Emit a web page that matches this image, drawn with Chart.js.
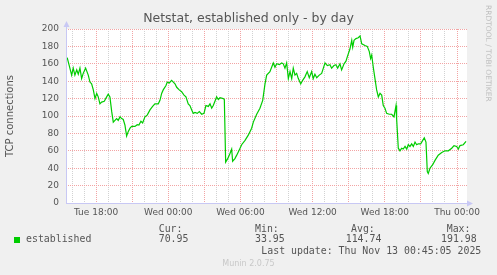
<!DOCTYPE html>
<html>
<head>
<meta charset="utf-8">
<title>Netstat, established only - by day</title>
<script src="https://cdn.jsdelivr.net/npm/chart.js@4/dist/chart.umd.min.js"></script>
<style>
  html, body { margin: 0; padding: 0; background: #f0f0f0; }
  #wrap { position: relative; width: 497px; height: 275px; overflow: hidden; }
  #chart { position: absolute; left: 0; top: 0; }
  .t { position: absolute; white-space: pre; color: #555; line-height: 1; }
  .mono { font-family: "DejaVu Sans Mono", monospace; font-size: 9.9px; }
  #title { left: 0; width: 497px; top: 12px; text-align: center; font-family: "DejaVu Sans", sans-serif; font-size: 12.5px; }
  #munin { left: 0; width: 497px; top: 260px; text-align: center; font-family: "DejaVu Sans", sans-serif; font-size: 8px; color: #c8c8c8; }
  #rrd { left: 484px; top: 5px; font-family: "DejaVu Sans", sans-serif; font-size: 7.5px; color: #c0c0c0;
         transform-origin: 0 0; transform: translate(8px, 0) rotate(90deg); }
  #swatch { position: absolute; left: 14px; top: 237px; width: 6px; height: 6px; background: #00cc00; }
</style>
</head>
<body>
<div id="wrap">
  <canvas id="chart" width="497" height="275"></canvas>
  <div class="t" id="title">Netstat, established only - by day</div>
  <div class="t" id="rrd">RRDTOOL / TOBI OETIKER</div>
  <div id="swatch"></div>
  <div id="legend"></div>
  <div class="t" id="munin">Munin 2.0.75</div>
</div>
<script>
// hours relative to Wed 00:00
const timeHours = [
  -8.40, -8.23, -8.03, -7.90, -7.76, -7.61, -7.48, -7.34, -7.20, -7.07,
  -6.87, -6.65, -6.51, -6.37, -6.23, -6.09, -5.95, -5.82, -5.68, -5.54,
  -5.32, -5.12, -4.99, -4.85, -4.70, -4.57, -4.43, -4.29, -4.16, -4.01,
  -3.87, -3.74, -3.60, -3.46, -3.33, -3.18, -3.04, -2.77, -2.58, -2.44,
  -2.27, -2.13, -1.94, -1.75, -1.52, -1.30, -1.11, -0.83, -0.69, -0.55,
  -0.42, -0.19, -0.08, 0.08, 0.28, 0.42, 0.56, 0.70, 0.91, 1.11,
  1.31, 1.47, 1.66, 1.80, 1.95, 2.08, 2.22, 2.41, 2.58, 2.78,
  2.97, 3.13, 3.33, 3.47, 3.61, 3.74, 3.88, 4.02, 4.16, 4.30,
  4.57, 4.66, 4.77, 4.94, 5.13, 5.27, 5.35, 5.54, 5.69, 5.90,
  6.10, 6.38, 6.65, 6.93, 7.07, 7.35, 7.62, 7.85, 8.04, 8.18,
  8.45, 8.73, 8.87, 9.01, 9.23, 9.43, 9.56, 9.70, 9.84, 9.98,
  10.12, 10.26, 10.39, 10.53, 10.67, 10.81, 11.01, 11.17, 11.36, 11.55,
  11.72, 11.92, 12.05, 12.19, 12.34, 12.55, 12.75, 12.89, 13.03, 13.22,
  13.44, 13.58, 13.77, 13.94, 14.08, 14.27, 14.41, 14.61, 14.77, 14.88,
  15.10, 15.25, 15.33, 15.44, 15.60, 15.79, 15.94, 16.08, 16.35, 16.54,
  16.71, 16.82, 16.91, 17.04, 17.18, 17.32, 17.46, 17.60, 17.74, 17.87,
  18.01, 18.15, 18.37, 18.57, 18.76, 18.93, 18.98, 19.12, 19.26, 19.40,
  19.53, 19.68, 19.82, 19.95, 20.09, 20.23, 20.37, 20.51, 20.65, 20.78,
  20.98, 21.15, 21.28, 21.42, 21.53, 21.61, 21.75, 21.98, 22.17, 22.44,
  22.73, 23.00, 23.28, 23.56, 23.75, 23.97, 24.11, 24.25, 24.52, 24.75
];
const established = [
  167, 158, 147, 155, 147, 153, 148, 155, 143, 149,
  155, 147, 139, 137, 130, 120, 126, 122, 114, 116,
  117, 122, 125, 122, 105, 93, 95, 97, 95, 99,
  97, 96, 89.5, 77, 82, 86, 88, 88, 90, 89.5,
  94, 92, 99, 101, 107, 111, 114, 114, 118, 126,
  130, 135, 139, 138, 141, 139, 137, 133, 130, 128,
  124, 122, 114, 112, 107, 103, 104, 103, 105, 102,
  103, 112, 111, 114, 109, 112, 117, 122, 119, 121,
  120, 119, 47, 51, 57, 62, 48, 51, 55, 61,
  67, 72, 78, 86, 93, 102, 109, 118, 137, 147,
  151, 161, 156, 160, 159, 161, 160, 155, 161, 143,
  151, 143, 155, 147, 149, 143, 137, 141, 145, 151,
  144, 151, 143, 148, 144, 147, 149, 155, 161, 158,
  159, 155, 158, 159, 155, 160, 153, 160, 163, 168,
  177, 187, 179, 187, 189, 190, 191.98, 183, 181, 180,
  174, 166, 170, 156, 143, 130, 122, 126, 124, 112,
  109, 103, 102, 102, 99, 112, 97, 63, 60, 63,
  62, 65, 62, 67, 65, 68, 65, 70, 67, 68,
  68, 72, 75, 70, 36, 33.95, 40, 44, 49, 55,
  58, 60, 60, 63, 66, 65, 62, 66, 67, 70.95
];

const xTickHours = [-6, 0, 6, 12, 18, 24];
const xTickLabels = ["Tue 18:00", "Wed 00:00", "Wed 06:00", "Wed 12:00", "Wed 18:00", "Thu 00:00"];
const statNames = ["Cur:", "Min:", "Avg:", "Max:"];
const statValues = ["70.95", "33.95", "114.74", "191.98"];
const seriesName = "established";
const lastUpdate = "Last update: Thu Nov 13 00:45:05 2025";

// legend / stats row (monospace, like rrdtool)
const legend = document.getElementById("legend");
function addText(txt, x, y) {
  const d = document.createElement("div");
  d.className = "t mono";
  d.textContent = txt;
  d.style.left = x + "px";
  d.style.top = y + "px";
  legend.appendChild(d);
}
const nameX = [158.7, 255, 351, 446.7];
const valX = [158.7, 255, 345.7, 441];
statNames.forEach((s, i) => addText(s, nameX[i], 223.5));
statValues.forEach((s, i) => addText(s, valX[i], 234));
addText(seriesName, 26, 234);
addText(lastUpdate, 261.3, 246);

const RED = "#f2a4a4";
const GREY = "#d2d2d2";

const plotBg = {
  id: "plotBg",
  beforeDraw(chart) {
    const { ctx, chartArea: a } = chart;
    ctx.save();
    ctx.fillStyle = "#ffffff";
    ctx.fillRect(a.left, a.top, a.right - a.left, a.bottom - a.top);
    ctx.restore();
  },
  afterDraw(chart) {
    const { ctx, chartArea: a } = chart;
    ctx.save();
    ctx.strokeStyle = "#c8c8f4";
    ctx.fillStyle = "#c8c8f4";
    ctx.lineWidth = 1;
    ctx.beginPath();
    ctx.moveTo(a.left + 0.5, a.bottom + 0.5);
    ctx.lineTo(a.left + 0.5, a.top - 5);
    ctx.moveTo(a.left, a.bottom + 0.5);
    ctx.lineTo(a.right + 2, a.bottom + 0.5);
    ctx.stroke();
    // arrow heads
    ctx.beginPath();
    ctx.moveTo(a.left + 0.5, a.top - 8);
    ctx.lineTo(a.left - 2.5, a.top - 2);
    ctx.lineTo(a.left + 3.5, a.top - 2);
    ctx.closePath();
    ctx.fill();
    ctx.beginPath();
    ctx.moveTo(a.right + 6, a.bottom + 0.5);
    ctx.lineTo(a.right, a.bottom - 2.5);
    ctx.lineTo(a.right, a.bottom + 3.5);
    ctx.closePath();
    ctx.fill();
    ctx.restore();
  }
};

new Chart(document.getElementById("chart"), {
  type: "line",
  data: {
    datasets: [{
      label: seriesName,
      data: timeHours.map((h, i) => ({ x: h, y: established[i] })),
      borderColor: "#00cc00",
      borderWidth: 1.2,
      pointRadius: 0,
      tension: 0,
      fill: false
    }]
  },
  options: {
    responsive: false,
    animation: false,
    layout: { padding: { left: 0, top: 29, right: 30, bottom: 52 } },
    plugins: { legend: { display: false }, tooltip: { enabled: false } },
    scales: {
      x: {
        type: "linear",
        min: -8.5,
        max: 24.83,
        afterFit(scale) { scale.height = 20; },
        border: { display: false, dash: [1, 1] },
        grid: {
          drawTicks: false,
          color: (c) => (Math.round(c.tick.value) % 3 === 0 ? RED : GREY)
        },
        ticks: {
          stepSize: 1,
          autoSkip: false,
          maxRotation: 0,
          includeBounds: false,
          padding: 4,
          color: "#555",
          font: { family: "DejaVu Sans", size: 9 },
          callback: (v) => {
            const i = xTickHours.indexOf(Math.round(v));
            return i >= 0 ? xTickLabels[i] : "";
          }
        }
      },
      y: {
        min: 0,
        max: 200,
        afterFit(scale) { scale.width = 66; },
        border: { display: false, dash: [1, 1] },
        grid: {
          drawTicks: false,
          color: (c) => (c.tick.value % 20 === 0 ? RED : GREY)
        },
        ticks: {
          stepSize: 10,
          padding: 7,
          color: "#555",
          font: { family: "DejaVu Sans", size: 9 },
          callback: (v) => (v % 20 === 0 ? String(v) : "")
        },
        title: {
          display: true,
          text: "TCP connections",
          color: "#555",
          padding: { top: 4, bottom: 0 },
          font: { family: "DejaVu Sans", size: 10 }
        }
      }
    }
  },
  plugins: [plotBg]
});
</script>
</body>
</html>
